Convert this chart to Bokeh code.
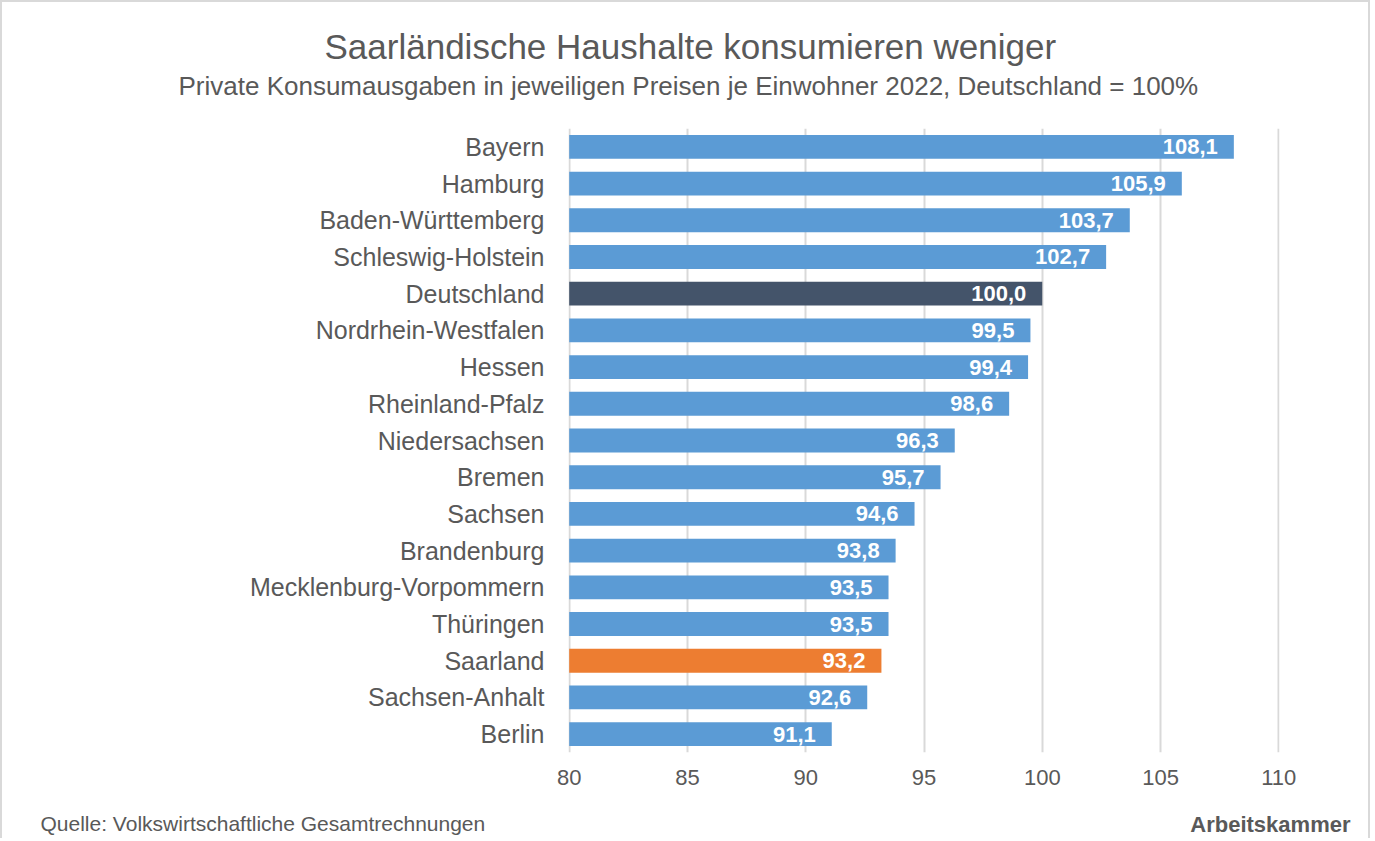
from bokeh.plotting import figure
from bokeh.models import ColumnDataSource, FactorRange, Title, FixedTicker
from bokeh.core.properties import value
from bokeh.embed import file_html
from bokeh.resources import INLINE

regions = ["Bayern", "Hamburg", "Baden-Württemberg", "Schleswig-Holstein", "Deutschland",
           "Nordrhein-Westfalen", "Hessen", "Rheinland-Pfalz", "Niedersachsen", "Bremen",
           "Sachsen", "Brandenburg", "Mecklenburg-Vorpommern", "Thüringen", "Saarland",
           "Sachsen-Anhalt", "Berlin"]
values = [108.1, 105.9, 103.7, 102.7, 100.0, 99.5, 99.4, 98.6, 96.3, 95.7,
          94.6, 93.8, 93.5, 93.5, 93.2, 92.6, 91.1]
x_ticks = [80, 85, 90, 95, 100, 105, 110]

BLUE = "#5B9BD5"
DARK = "#44546A"
ORANGE = "#ED7D31"
TEXT = "#595959"
GRID = "#D9D9D9"
FONT = "Liberation Sans"

colors = [DARK if r == "Deutschland" else ORANGE if r == "Saarland" else BLUE for r in regions]
labels = [f"{v:.1f}".replace(".", ",") for v in values]

src = ColumnDataSource(dict(region=regions, val=values, color=colors, lab=labels,
                            base=[x_ticks[0]] * len(values)))

p = figure(width=1370, height=838, output_backend="svg", toolbar_location=None,
           y_range=FactorRange(factors=list(reversed(regions))),
           x_range=(x_ticks[0] - 0.03, x_ticks[-1] + 0.03),
           min_border_left=568, min_border_right=91, min_border_top=128, min_border_bottom=86)

p.hbar(y="region", left="base", right="val", height=0.65, fill_color="color",
       line_color=None, source=src)
p.text(x="val", y="region", text="lab", source=src, x_offset=-16, text_align="right",
       text_baseline="middle", text_color="white", text_font=value(FONT),
       text_font_style="bold", text_font_size="22px")

p.outline_line_color = None
p.background_fill_color = "white"
p.border_fill_color = None
p.styles = {"box-shadow": f"inset 2px 2px 0 {GRID}, inset -2px 0 0 {GRID}"}

p.ygrid.grid_line_color = None
p.xgrid.grid_line_color = GRID
p.xgrid.grid_line_width = 2
p.xaxis.ticker = FixedTicker(ticks=x_ticks)

for ax in (p.xaxis, p.yaxis):
    ax.axis_line_color = None
    ax.major_tick_line_color = None
    ax.minor_tick_line_color = None
    ax.major_label_text_font = FONT
    ax.major_label_text_color = TEXT
p.xaxis.major_label_text_font_size = "22px"
p.xaxis.major_label_standoff = 11
# blank axis label used only as vertical spacing before the footer line
p.xaxis.axis_label = " "
p.xaxis.axis_label_text_font_size = "10px"
p.xaxis.axis_label_standoff = 10
p.yaxis.major_label_text_font_size = "25px"
p.yaxis.major_label_standoff = 18

# titles above the plot (first added sits closest to the plot)
p.add_layout(Title(text="Private Konsumausgaben in jeweiligen Preisen je Einwohner 2022, Deutschland = 100%",
                   align="left", offset=-390, standoff=56, text_font=FONT, text_font_size="26px",
                   text_font_style="normal", text_color=TEXT), "above")
p.add_layout(Title(text="Saarländische Haushalte konsumieren weniger",
                   align="left", offset=-244, standoff=-50, text_font=FONT, text_font_size="35px",
                   text_font_style="normal", text_color=TEXT), "above")

# footer line
p.add_layout(Title(text="Quelle: Volkswirtschaftliche Gesamtrechnungen", align="left", offset=-528,
                   vertical_align="top", standoff=0, text_font=FONT, text_font_size="21px",
                   text_font_style="normal", text_color=TEXT), "below")
p.add_layout(Title(text="Arbeitskammer", align="right", offset=-71,
                   vertical_align="top", standoff=-50, text_font=FONT, text_font_size="22px",
                   text_font_style="bold", text_color=TEXT), "below")

open("out.html", "w").write(file_html(p, INLINE))
